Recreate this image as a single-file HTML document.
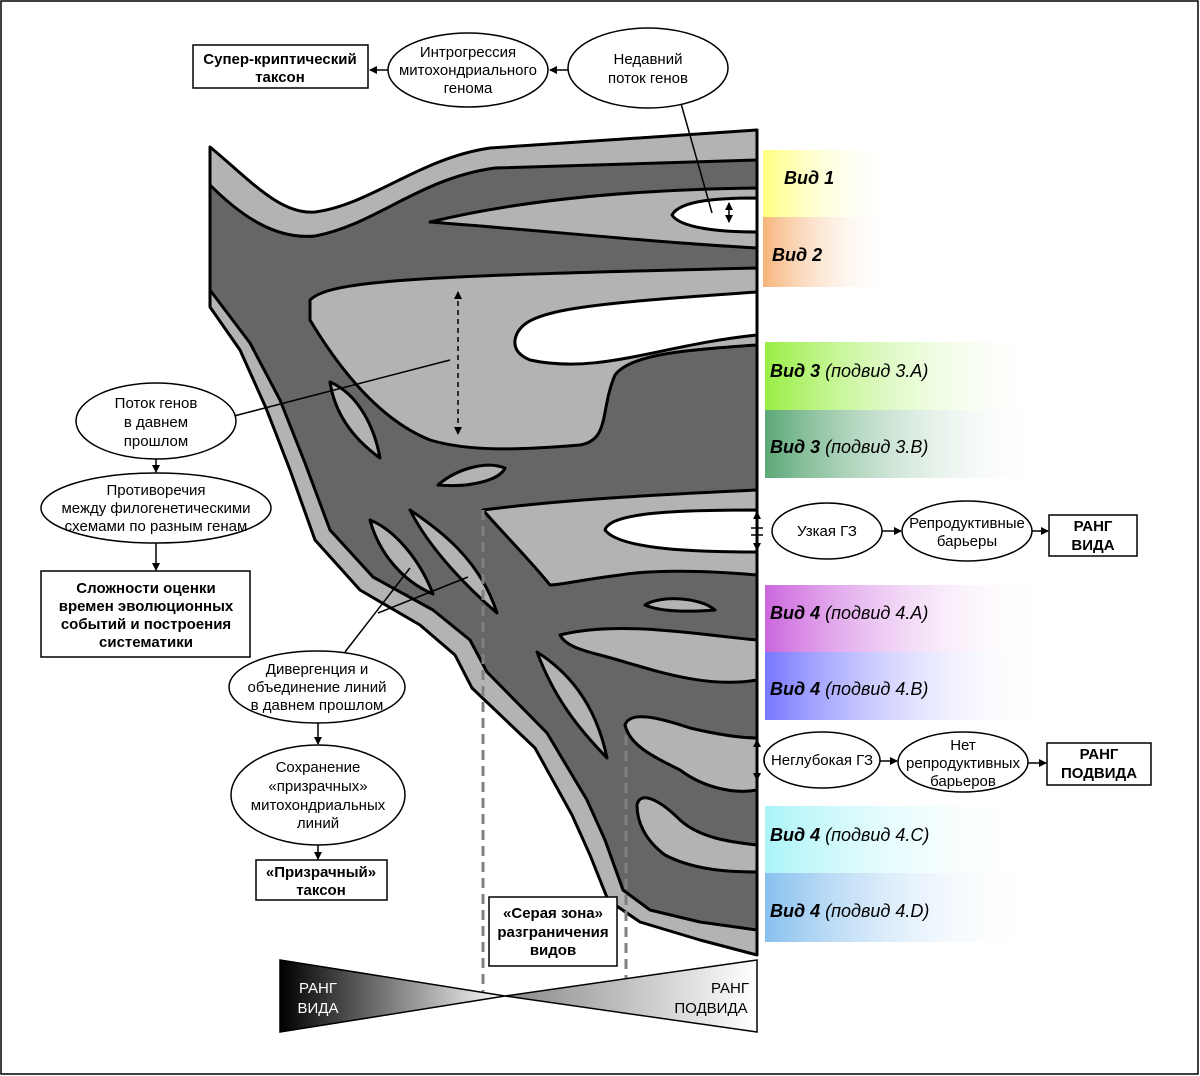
<!DOCTYPE html>
<html><head><meta charset="utf-8"><style>
body{margin:0;background:#fff;}
svg{display:block;font-family:"Liberation Sans",sans-serif;}
</style></head><body>
<svg width="1200" height="1076" viewBox="0 0 1200 1076" xmlns="http://www.w3.org/2000/svg">
<defs>
<linearGradient id="g1" x1="0" x2="1"><stop offset="0" stop-color="#ffff80"/><stop offset="1" stop-color="#fff" stop-opacity="0"/></linearGradient>
<linearGradient id="g2" x1="0" x2="1"><stop offset="0" stop-color="#f6b47a"/><stop offset="1" stop-color="#fff" stop-opacity="0"/></linearGradient>
<linearGradient id="g3" x1="0" x2="1"><stop offset="0" stop-color="#99ee44"/><stop offset="1" stop-color="#fff" stop-opacity="0"/></linearGradient>
<linearGradient id="g4" x1="0" x2="1"><stop offset="0" stop-color="#5ca877"/><stop offset="1" stop-color="#fff" stop-opacity="0"/></linearGradient>
<linearGradient id="g5" x1="0" x2="1"><stop offset="0" stop-color="#cc66dd"/><stop offset="1" stop-color="#fff" stop-opacity="0"/></linearGradient>
<linearGradient id="g6" x1="0" x2="1"><stop offset="0" stop-color="#7777ff"/><stop offset="1" stop-color="#fff" stop-opacity="0"/></linearGradient>
<linearGradient id="g7" x1="0" x2="1"><stop offset="0" stop-color="#aaf4f8"/><stop offset="1" stop-color="#fff" stop-opacity="0"/></linearGradient>
<linearGradient id="g8" x1="0" x2="1"><stop offset="0" stop-color="#88c0ee"/><stop offset="1" stop-color="#fff" stop-opacity="0"/></linearGradient>
<linearGradient id="tl" x1="0" x2="1"><stop offset="0" stop-color="#000"/><stop offset="1" stop-color="#fff"/></linearGradient>
<linearGradient id="tr" x1="0" x2="1"><stop offset="0" stop-color="#888"/><stop offset="1" stop-color="#fff"/></linearGradient>
<marker id="ar" markerWidth="8" markerHeight="8" refX="7" refY="4" orient="auto" markerUnits="userSpaceOnUse"><path d="M0,0 L8,4 L0,8 Z" fill="#000"/></marker>
<marker id="as" markerWidth="8" markerHeight="8" refX="1" refY="4" orient="auto" markerUnits="userSpaceOnUse"><path d="M8,0 L0,4 L8,8 Z" fill="#000"/></marker>
</defs>
<rect x="1" y="1" width="1197" height="1073" fill="none" stroke="#000" stroke-width="1.5"/>

<rect x="763" y="150" width="130" height="67" fill="url(#g1)"/>
<rect x="763" y="217" width="130" height="70" fill="url(#g2)"/>
<rect x="765" y="342" width="280" height="68" fill="url(#g3)"/>
<rect x="765" y="410" width="280" height="68" fill="url(#g4)"/>
<rect x="765" y="585" width="280" height="67" fill="url(#g5)"/>
<rect x="765" y="652" width="280" height="68" fill="url(#g6)"/>
<rect x="765" y="806" width="270" height="67" fill="url(#g7)"/>
<rect x="765" y="873" width="270" height="69" fill="url(#g8)"/>

<g stroke="#000" stroke-width="3" stroke-linejoin="round">
<path d="M210,147 C250,180 280,215 315,212 C370,205 420,158 490,148 L757,130 L757,955 L700,940 L640,922 L608,900 L590,855 L572,815 L535,748 L472,688 L455,655 L420,625 L360,590 L315,540 L290,470 L266,408 L240,350 L210,307 Z" fill="#b3b3b3"/>
<path d="M210,185 C240,215 275,240 315,236 C375,225 420,178 495,168 L757,160 L757,930 L700,922 L650,910 L623,890 L605,840 L587,800 L547,733 L487,672 L470,640 L433,610 L373,577 L330,530 L305,463 L280,400 L250,343 L210,290 Z" fill="#666"/>
<path d="M430,222 C500,205 600,190 757,188 L757,248 C650,242 560,232 430,222 Z" fill="#b3b3b3"/>
<path d="M672,215 C680,200 720,198 757,198 L757,232 C720,232 680,228 672,215 Z" fill="#fff"/>
<path d="M310,300 C330,280 420,276 757,268 L757,345 C680,350 630,355 615,375 C600,410 610,440 580,445 C520,450 470,452 430,440 C380,420 340,370 310,320 Z" fill="#b3b3b3"/>
<path d="M515,340 C520,310 570,305 757,292 L757,335 C660,345 600,375 530,360 C518,355 514,348 515,340 Z" fill="#fff"/>
<path d="M483,510 C560,500 650,495 757,490 L757,575 C700,570 650,570 620,575 C580,580 560,585 550,585 C530,560 500,530 483,510 Z" fill="#b3b3b3"/>
<path d="M605,530 C610,512 680,510 757,510 L757,552 C700,552 620,550 605,530 Z" fill="#fff"/>
<path d="M560,635 C620,620 700,635 757,640 L757,680 C700,690 640,665 600,655 C580,650 565,645 560,635 Z" fill="#b3b3b3"/>
<path d="M625,725 C630,710 660,718 690,728 C720,735 740,738 757,738 L757,790 C730,795 700,785 680,770 C650,755 630,745 625,725 Z" fill="#b3b3b3"/>
<path d="M637,805 C640,790 660,800 680,820 C700,838 730,842 757,845 L757,872 C720,872 690,868 665,855 C645,840 637,822 637,805 Z" fill="#b3b3b3"/>
<path d="M330,382 C360,395 375,430 380,458 C355,440 335,415 330,382 Z" fill="#b3b3b3"/>
<path d="M438,485 C455,470 485,460 505,468 C500,480 470,488 438,485 Z" fill="#b3b3b3"/>
<path d="M370,520 C395,530 420,560 433,594 C400,580 378,550 370,520 Z" fill="#b3b3b3"/>
<path d="M410,510 C440,530 480,560 497,613 C470,590 430,550 410,510 Z" fill="#b3b3b3"/>
<path d="M645,605 C660,595 700,597 715,610 C690,612 660,612 645,605 Z" fill="#b3b3b3"/>
<path d="M537,652 C565,670 595,700 607,758 C580,730 555,700 537,652 Z" fill="#b3b3b3"/>
</g>

<g stroke="#808080" stroke-width="3" stroke-dasharray="10,6">
<line x1="483" y1="510" x2="483" y2="992"/>
<line x1="626" y1="735" x2="626" y2="978"/>
</g>

<g stroke="#000" stroke-width="1.5" fill="none">
<line x1="729" y1="203" x2="729" y2="222" marker-start="url(#as)" marker-end="url(#ar)"/>
<line x1="458" y1="292" x2="458" y2="434" stroke-dasharray="5,4" marker-start="url(#as)" marker-end="url(#ar)"/>
<line x1="757" y1="512" x2="757" y2="550" marker-start="url(#as)" marker-end="url(#ar)"/>
<line x1="751" y1="528" x2="763" y2="528"/><line x1="751" y1="535" x2="763" y2="535"/>
<line x1="757" y1="740" x2="757" y2="780" marker-start="url(#as)" marker-end="url(#ar)"/>
<line x1="680" y1="100" x2="712" y2="213"/>
<line x1="234" y1="416" x2="450" y2="360"/>
<line x1="345" y1="652" x2="410" y2="568"/>
<line x1="378" y1="613" x2="468" y2="577"/>
<line x1="568" y1="70" x2="550" y2="70" marker-end="url(#ar)"/>
<line x1="388" y1="70" x2="370" y2="70" marker-end="url(#ar)"/>
<line x1="156" y1="459" x2="156" y2="472" marker-end="url(#ar)"/>
<line x1="156" y1="543" x2="156" y2="570" marker-end="url(#ar)"/>
<line x1="318" y1="723" x2="318" y2="744" marker-end="url(#ar)"/>
<line x1="318" y1="845" x2="318" y2="859" marker-end="url(#ar)"/>
<line x1="882" y1="531" x2="901" y2="531" marker-end="url(#ar)"/>
<line x1="1032" y1="531" x2="1048" y2="531" marker-end="url(#ar)"/>
<line x1="880" y1="761" x2="897" y2="761" marker-end="url(#ar)"/>
<line x1="1028" y1="763" x2="1046" y2="763" marker-end="url(#ar)"/>
</g>

<g stroke="#000" stroke-width="1.5" fill="#fff">
<rect x="193" y="45" width="175" height="43"/>
<ellipse cx="468" cy="70" rx="80" ry="37"/>
<ellipse cx="648" cy="68" rx="80" ry="40"/>
<ellipse cx="156" cy="421" rx="80" ry="38"/>
<ellipse cx="156" cy="508" rx="115" ry="35"/>
<rect x="41" y="571" width="209" height="86"/>
<ellipse cx="317" cy="687" rx="88" ry="36"/>
<ellipse cx="318" cy="795" rx="87" ry="50"/>
<rect x="256" y="860" width="131" height="40"/>
<rect x="489" y="897" width="128" height="69"/>
<ellipse cx="827" cy="531" rx="55" ry="28"/>
<ellipse cx="967" cy="531" rx="65" ry="30"/>
<rect x="1049" y="515" width="88" height="41"/>
<ellipse cx="822" cy="760" rx="58" ry="28"/>
<ellipse cx="963" cy="762" rx="65" ry="30"/>
<rect x="1047" y="743" width="104" height="42"/>
</g>

<path d="M280,960 L280,1032 L505,996 Z" fill="url(#tl)" stroke="#000" stroke-width="1.5"/>
<path d="M757,960 L757,1032 L505,996 Z" fill="url(#tr)" stroke="#000" stroke-width="1.5"/>

<g font-size="15" text-anchor="middle" fill="#000">
<text x="280" y="64" font-weight="bold">Супер-криптический</text>
<text x="280" y="82" font-weight="bold">таксон</text>
<text x="468" y="57">Интрогрессия</text>
<text x="468" y="75">митохондриального</text>
<text x="468" y="93">генома</text>
<text x="648" y="64">Недавний</text>
<text x="648" y="83">поток генов</text>
<text x="156" y="408">Поток генов</text>
<text x="156" y="427">в давнем</text>
<text x="156" y="446">прошлом</text>
<text x="156" y="495">Противоречия</text>
<text x="156" y="513">между филогенетическими</text>
<text x="156" y="531">схемами по разным генам</text>
<text x="146" y="593" font-weight="bold">Сложности оценки</text>
<text x="146" y="611" font-weight="bold">времен эволюционных</text>
<text x="146" y="629" font-weight="bold">событий и построения</text>
<text x="146" y="647" font-weight="bold">систематики</text>
<text x="317" y="674">Дивергенция и</text>
<text x="317" y="692">объединение линий</text>
<text x="317" y="710">в давнем прошлом</text>
<text x="318" y="772">Сохранение</text>
<text x="318" y="791">«призрачных»</text>
<text x="318" y="810">митохондриальных</text>
<text x="318" y="828">линий</text>
<text x="321" y="877" font-weight="bold">«Призрачный»</text>
<text x="321" y="895" font-weight="bold">таксон</text>
<text x="553" y="918" font-weight="bold">«Серая зона»</text>
<text x="553" y="937" font-weight="bold">разграничения</text>
<text x="553" y="955" font-weight="bold">видов</text>
<text x="827" y="536">Узкая ГЗ</text>
<text x="967" y="528">Репродуктивные</text>
<text x="967" y="546">барьеры</text>
<text x="1093" y="531" font-weight="bold">РАНГ</text>
<text x="1093" y="550" font-weight="bold">ВИДА</text>
<text x="822" y="765">Неглубокая ГЗ</text>
<text x="963" y="750">Нет</text>
<text x="963" y="768">репродуктивных</text>
<text x="963" y="786">барьеров</text>
<text x="1099" y="759" font-weight="bold">РАНГ</text>
<text x="1099" y="778" font-weight="bold">ПОДВИДА</text>
<text x="318" y="993" fill="#fff">РАНГ</text>
<text x="318" y="1013" fill="#fff">ВИДА</text>
<text x="730" y="993">РАНГ</text>
<text x="711" y="1013">ПОДВИДА</text>
</g>
<g font-size="18" fill="#000">
<text x="784" y="184" font-weight="bold" font-style="italic">Вид 1</text>
<text x="772" y="261" font-weight="bold" font-style="italic">Вид 2</text>
<text x="770" y="377"><tspan font-weight="bold" font-style="italic">Вид 3</tspan><tspan font-style="italic"> (подвид 3.А)</tspan></text>
<text x="770" y="453"><tspan font-weight="bold" font-style="italic">Вид 3</tspan><tspan font-style="italic"> (подвид 3.В)</tspan></text>
<text x="770" y="619"><tspan font-weight="bold" font-style="italic">Вид 4</tspan><tspan font-style="italic"> (подвид 4.А)</tspan></text>
<text x="770" y="695"><tspan font-weight="bold" font-style="italic">Вид 4</tspan><tspan font-style="italic"> (подвид 4.В)</tspan></text>
<text x="770" y="841"><tspan font-weight="bold" font-style="italic">Вид 4</tspan><tspan font-style="italic"> (подвид 4.С)</tspan></text>
<text x="770" y="917"><tspan font-weight="bold" font-style="italic">Вид 4</tspan><tspan font-style="italic"> (подвид 4.D)</tspan></text>
</g>
</svg>
</body></html>
